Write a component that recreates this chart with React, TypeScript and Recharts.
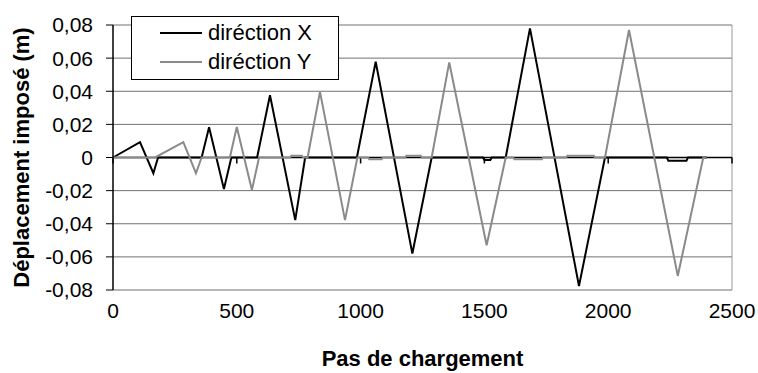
import type { FC } from "react";
import {
  LineChart,
  Line,
  XAxis,
  YAxis,
  CartesianGrid,
  ReferenceLine,
  Legend,
} from "recharts";

const FONT = '"Liberation Sans", Arial, sans-serif';

// loading step for each vertex, direction X (black)
const stepsX = [
  0, 109, 163, 182, 358, 388, 448, 478, 582, 634, 736, 776, 985, 1061, 1209,
  1287, 1494, 1500, 1524, 1530, 1586, 1684, 1882, 1987, 2237, 2243, 2316, 2322,
  2397,
];
const dispX = [
  0, 0.0093, -0.0095, 0, 0, 0.0183, -0.019, 0, 0, 0.0376, -0.0378, 0, 0,
  0.0578, -0.058, 0, 0, -0.0015, -0.0015, 0, 0, 0.078, -0.0776, 0, 0, -0.002,
  -0.002, 0, 0,
];

// direction Y (grey)
const stepsY = [
  0, 170, 284, 335, 358, 472, 500, 561, 590, 715, 720, 763, 768, 786, 836, 937,
  987, 1030, 1035, 1085, 1090, 1180, 1185, 1243, 1248, 1287, 1358, 1509, 1586,
  1616, 1621, 1732, 1737, 1830, 1835, 1942, 1947, 1987, 2084, 2281, 2384, 2397,
];
const dispY = [
  0, 0, 0.0093, -0.0095, 0, 0, 0.0184, -0.0196, 0, 0, 0.001, 0.001, 0, 0,
  0.0396, -0.0378, 0, 0, -0.001, -0.001, 0, 0, 0.001, 0.001, 0, 0, 0.0574,
  -0.053, 0, 0, -0.001, -0.001, 0, 0, 0.001, 0.001, 0, 0, 0.077, -0.0715, 0, 0,
];

const xTicks = [0, 500, 1000, 1500, 2000, 2500];
const yTicks = [-0.08, -0.06, -0.04, -0.02, 0, 0.02, 0.04, 0.06, 0.08];
const seriesNames = ["diréction X", "diréction Y"];
const seriesColors = ["#000000", "#8a8a8a"];

const seriesX = stepsX.map((step, i) => ({ step, value: dispX[i] }));
const seriesY = stepsY.map((step, i) => ({ step, value: dispY[i] }));

const formatY = (v: number) => (v === 0 ? "0" : v.toFixed(2).replace(".", ","));

const LegendBox: FC = () => (
  <div
    style={{
      boxSizing: "border-box",
      width: 208,
      height: 64,
      border: "1px solid #000",
      background: "#fff",
      paddingTop: 1,
      fontFamily: FONT,
      fontSize: 22,
      color: "#000",
    }}
  >
    {seriesNames.map((name, i) => (
      <div
        key={name}
        style={{ display: "flex", alignItems: "center", height: 29 }}
      >
        <svg width={42} height={4} style={{ marginLeft: 28 }}>
          <line x1={0} y1={2} x2={42} y2={2} stroke={seriesColors[i]} strokeWidth={2} />
        </svg>
        <span style={{ marginLeft: 6, lineHeight: "29px" }}>{name}</span>
      </div>
    ))}
  </div>
);

const App: FC = () => {
  return (
    <div style={{ position: "absolute", left: 0, top: 0, background: "#fff" }}>
      <LineChart
        width={758}
        height={373}
        margin={{ top: 25, right: 26, bottom: 3, left: 0 }}
        style={{ fontFamily: FONT }}
      >
        <CartesianGrid vertical={false} stroke="#707070" strokeWidth={1} />
        <XAxis
          dataKey="step"
          type="number"
          domain={[0, 2500]}
          ticks={xTicks}
          interval={0}
          axisLine={false}
          tickLine={false}
          tickSize={6}
          tickMargin={7}
          height={80}
          tick={{ fill: "#000", fontSize: 21, fontFamily: FONT }}
          allowDuplicatedCategory={false}
          label={{
            content: ({ viewBox }: any) => (
              <text
                x={viewBox.x + viewBox.width / 2}
                y={366}
                textAnchor="middle"
                fontFamily={FONT}
                fontSize={22}
                fontWeight="bold"
                fill="#000"
              >
                Pas de chargement
              </text>
            ),
          }}
        />
        <YAxis
          type="number"
          domain={[-0.08, 0.08]}
          ticks={yTicks}
          interval={0}
          width={113}
          tickFormatter={formatY}
          axisLine={{ stroke: "#000", strokeWidth: 1.5 }}
          tickLine={{ stroke: "#000" }}
          tickSize={7}
          tickMargin={13}
          tick={{ fill: "#000", fontSize: 21, fontFamily: FONT }}
          label={{
            content: ({ viewBox }: any) => {
              const cx = 29;
              const cy = viewBox.y + viewBox.height / 2;
              return (
                <text
                  x={cx}
                  y={cy}
                  transform={`rotate(-90, ${cx}, ${cy})`}
                  textAnchor="middle"
                  fontFamily={FONT}
                  fontSize={22}
                  fontWeight="bold"
                  fill="#000"
                >
                  Déplacement imposé (m)
                </text>
              );
            },
          }}
        />
        <ReferenceLine x={2500} stroke="#999" strokeWidth={1} />
        <ReferenceLine y={0} stroke="#000" strokeWidth={1.5} />
        {xTicks.map((t) => (
          <ReferenceLine
            key={t}
            segment={[
              { x: t, y: 0 },
              { x: t, y: -0.0036 },
            ]}
            stroke="#000"
            strokeWidth={1.5}
          />
        ))}
        <Line
          data={seriesX}
          dataKey="value"
          name={seriesNames[0]}
          type="linear"
          stroke={seriesColors[0]}
          strokeWidth={2}
          dot={false}
          isAnimationActive={false}
        />
        <Line
          data={seriesY}
          dataKey="value"
          name={seriesNames[1]}
          type="linear"
          stroke={seriesColors[1]}
          strokeWidth={2}
          dot={false}
          isAnimationActive={false}
        />
        <Legend
          layout="vertical"
          align="center"
          verticalAlign="middle"
          content={() => <LegendBox />}
          wrapperStyle={{ left: 131, top: 16, width: 208, height: 64 }}
        />
      </LineChart>
    </div>
  );
};

export default App;
